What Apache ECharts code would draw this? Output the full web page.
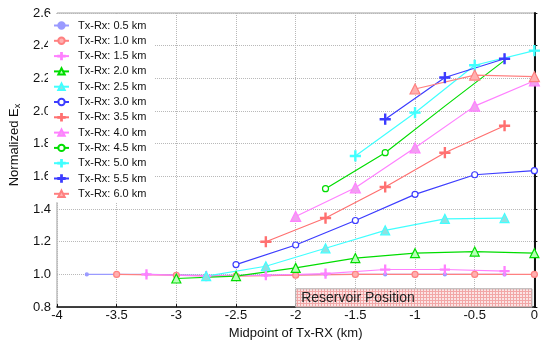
<!DOCTYPE html>
<html>
<head>
<meta charset="utf-8">
<script src="https://cdn.jsdelivr.net/npm/echarts@6/dist/echarts.min.js"></script>
<style>
  html, body { margin: 0; padding: 0; background: #fff; }
  #container { width: 541px; height: 345px; }
</style>
</head>
<body>
<div id="container"></div>
<script>
// midpoint positions (km) and normalized Ex for each Tx-Rx offset
const x05 = [-3.75, -3.25, -2.75, -2.25, -1.75, -1.25, -0.75, -0.25];
const y05 = [1.0, 1.0, 0.995, 0.995, 1.0, 1.0, 1.0, 1.0];
const x10 = [-3.5, -3, -2.5, -2, -1.5, -1, -0.5, 0];
const y10 = [1.0, 0.995, 0.99, 0.995, 1.0, 1.0, 1.0, 1.0];
const x15 = [-3.25, -2.75, -2.25, -1.75, -1.25, -0.75, -0.25];
const y15 = [1.0, 0.99, 0.995, 1.005, 1.03, 1.03, 1.02];
const x20 = [-3, -2.5, -2, -1.5, -1, -0.5, 0];
const y20 = [0.975, 0.99, 1.04, 1.1, 1.13, 1.14, 1.13];
const x25 = [-2.75, -2.25, -1.75, -1.25, -0.75, -0.25];
const y25 = [0.99, 1.05, 1.16, 1.27, 1.34, 1.345];
const x30 = [-2.5, -2, -1.5, -1, -0.5, 0];
const y30 = [1.06, 1.18, 1.33, 1.49, 1.61, 1.635];
const x35 = [-2.25, -1.75, -1.25, -0.75, -0.25];
const y35 = [1.2, 1.345, 1.535, 1.745, 1.91];
const x40 = [-2, -1.5, -1, -0.5, 0];
const y40 = [1.355, 1.53, 1.775, 2.03, 2.185];
const x45 = [-1.75, -1.25, -0.75, -0.25];
const y45 = [1.525, 1.745, 2.03, 2.31];
const x50 = [-1.5, -1, -0.5, 0];
const y50 = [1.725, 1.99, 2.28, 2.37];
const x55 = [-1.25, -0.75, -0.25];
const y55 = [1.95, 2.205, 2.32];
const x60 = [-1, -0.5, 0];
const y60 = [2.135, 2.22, 2.21];

const names = ['Tx-Rx: 0.5 km', 'Tx-Rx: 1.0 km', 'Tx-Rx: 1.5 km', 'Tx-Rx: 2.0 km',
  'Tx-Rx: 2.5 km', 'Tx-Rx: 3.0 km', 'Tx-Rx: 3.5 km', 'Tx-Rx: 4.0 km',
  'Tx-Rx: 4.5 km', 'Tx-Rx: 5.0 km', 'Tx-Rx: 5.5 km', 'Tx-Rx: 6.0 km'];
const xTicks = [-4, -3.5, -3, -2.5, -2, -1.5, -1, -0.5, 0];
const yTicks = [0.8, 1.0, 1.2, 1.4, 1.6, 1.8, 2.0, 2.2, 2.4, 2.6];

const PLUS = 'path://M0,4.4H10V5.6H0Z M4.4,0H5.6V10H4.4Z';

// pink dotted grid fill for the reservoir box
const pat = document.createElement('canvas');
pat.width = 3; pat.height = 3;
const pctx = pat.getContext('2d');
pctx.fillStyle = '#fbe4e4';
pctx.fillRect(0, 0, 3, 3);
pctx.fillStyle = '#f2a6a6';
pctx.fillRect(0, 0, 3, 1);
pctx.fillRect(0, 0, 1, 3);

function pairs(xs, ys) {
  return xs.map((x, i) => [x, ys[i]]);
}

function mk(name, xs, ys, color, symbol, size, fill, opts) {
  opts = opts || {};
  let data = pairs(xs, ys);
  if (opts.markCount) {
    data = data.map((d, i) => (i < opts.markCount ? d : { value: d, symbol: 'none' }));
  }
  return Object.assign({
    name: name,
    type: 'line',
    data: data,
    symbol: symbol,
    symbolSize: size,
    showAllSymbol: true,
    lineStyle: { color: color, width: 1.2 },
    itemStyle: { color: fill, borderColor: color, borderWidth: 1.2 },
    emphasis: { disabled: true },
    animation: false
  }, opts.extra || {});
}

const series = [
  mk(names[0], x05, y05, '#9a9aff', 'circle', 3, '#9a9aff', {
    extra: {
      markArea: {
        silent: true,
        itemStyle: { color: { image: pat, repeat: 'repeat' }, borderColor: '#b0b0b0', borderWidth: 1 },
        label: { show: true, position: 'insideLeft', distance: 6, color: '#222', fontSize: 14, fontFamily: 'Liberation Sans' },
        data: [[{ name: 'Reservoir Position', coord: [-2, 0.8] }, { coord: [-0.02, 0.912] }]]
      }
    }
  }),
  mk(names[1], x10, y10, '#ff8080', 'circle', 6, '#ffb0b0'),
  mk(names[2], x15, y15, '#ff80ff', PLUS, 9, '#ff80ff'),
  mk(names[3], x20, y20, '#00dd00', 'triangle', 9, '#b8ffb8'),
  mk(names[4], x25, y25, '#40ffff', 'triangle', 9, '#90e0e0'),
  mk(names[5], x30, y30, '#3c3cff', 'circle', 6, '#ffffff'),
  mk(names[6], x35, y35, '#ff7070', PLUS, 10, '#ff7070'),
  mk(names[7], x40, y40, '#ff80ff', 'triangle', 10, '#f0a0f0'),
  mk(names[8], x45, y45, '#00dd00', 'circle', 6, '#ffffff', { markCount: 2 }),
  mk(names[9], x50, y50, '#40ffff', PLUS, 10, '#40ffff'),
  mk(names[10], x55, y55, '#3c3cff', PLUS, 10, '#3c3cff'),
  mk(names[11], x60, y60, '#ff8080', 'triangle', 10, '#ffb0b0')
];

const chart = echarts.init(document.getElementById('container'), null, { renderer: 'canvas' });
chart.setOption({
  backgroundColor: '#fff',
  animation: false,
  textStyle: { fontFamily: 'Liberation Sans' },
  grid: { left: 46, right: 3, top: 13, bottom: 35, show: true, borderColor: '#a0a0a0', borderWidth: 1 },
  legend: {
    orient: 'vertical',
    left: 48,
    top: 14,
    padding: [6, 8, 3, 5],
    backgroundColor: '#fff',
    itemWidth: 15,
    itemHeight: 8,
    itemGap: 4.3,
    textStyle: { fontSize: 11, color: '#111', fontFamily: 'Liberation Sans', padding: [0, 0, 0, 4] },
    data: names
  },
  xAxis: {
    type: 'value',
    min: -4,
    max: 0,
    interval: 0.5,
    name: 'Midpoint of Tx-RX (km)',
    nameLocation: 'middle',
    nameGap: 19,
    nameTextStyle: { fontSize: 13, color: '#111' },
    axisLine: { lineStyle: { color: '#111', width: 1.5 } },
    axisTick: { inside: true, length: 3, lineStyle: { color: '#111' } },
    axisLabel: {
      fontSize: 13, color: '#111', margin: 2,
      formatter: v => String(xTicks.find(t => Math.abs(t - v) < 1e-6) ?? v)
    },
    splitLine: { show: true, lineStyle: { color: '#b8b8b8', type: [1, 1] } }
  },
  yAxis: {
    type: 'value',
    min: 0.8,
    max: 2.6,
    interval: 0.2,
    name: 'Normalized E{sub|x}',
    nameLocation: 'middle',
    nameGap: 20,
    nameTextStyle: {
      fontSize: 13, color: '#111', padding: [0, 0, 0, 30],
      rich: { sub: { fontSize: 9, color: '#111', padding: [6, 0, 0, 0] } }
    },
    axisLine: { lineStyle: { color: '#111', width: 2 } },
    axisTick: { inside: true, length: 3, lineStyle: { color: '#111' } },
    axisLabel: {
      fontSize: 13, color: '#111', margin: 6,
      formatter: v => {
        const t = yTicks.find(t => Math.abs(t - v) < 1e-6);
        return (t ?? v).toFixed(1);
      }
    },
    splitLine: { show: true, lineStyle: { color: '#b8b8b8', type: [1, 1] } }
  },
  series: series
});
</script>
</body>
</html>
